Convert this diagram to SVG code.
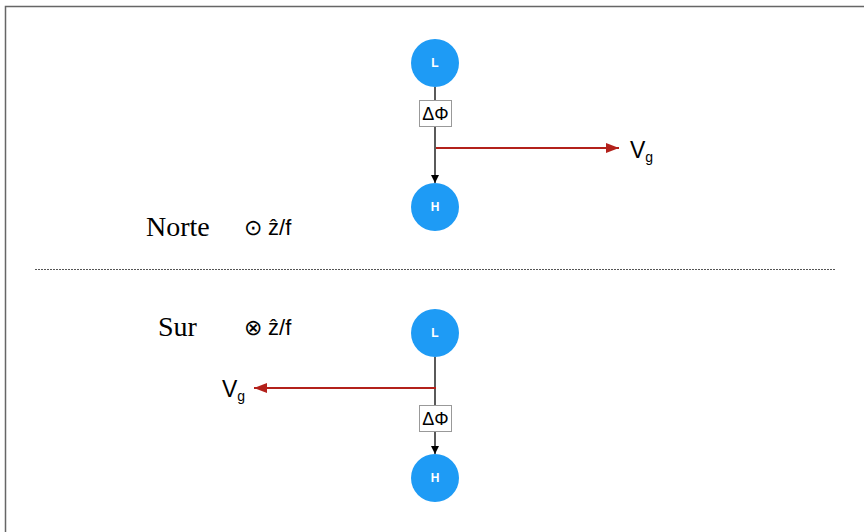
<svg xmlns="http://www.w3.org/2000/svg" width="864" height="532" viewBox="0 0 864 532">
<style>
.node{fill:#1e9bf5}
.nl{font-family:"Liberation Sans",Arial,sans-serif;font-size:12px;font-weight:bold;fill:#fff;text-anchor:middle}
.edge{stroke:#000;stroke-width:1.3;fill:none}
.red{stroke:#b3211b;stroke-width:2.2;fill:none}
.box{fill:#fff;stroke:#999;stroke-width:1}
.df{font-family:"Liberation Sans",Arial,sans-serif;font-size:18px;fill:#000;text-anchor:middle}
.vg{font-family:"Liberation Sans",Arial,sans-serif;font-size:23px;fill:#000}
.vgs{font-size:14px}
.ser{font-family:"Liberation Serif","Times New Roman",serif;font-size:28px;fill:#000}
.san{font-family:"Liberation Sans",Arial,sans-serif;font-size:22px;fill:#000}
</style>
<defs>
<marker id="ab" markerWidth="10" markerHeight="10" refX="9" refY="5" orient="auto" markerUnits="userSpaceOnUse"><path d="M1,1 L9,5 L1,9 z" fill="#000"/></marker>
<marker id="ar" markerWidth="14" markerHeight="12" refX="13" refY="6" orient="auto" markerUnits="userSpaceOnUse"><path d="M0,1 L13,6 L0,11 z" fill="#b3211b"/></marker>
</defs>
<rect width="864" height="532" fill="#fff"/>
<path d="M5.5,532 V6.5 H864" stroke="#666" stroke-width="1.5" fill="none"/>
<line x1="35" y1="269.5" x2="835" y2="269.5" stroke="#555" stroke-width="1" stroke-dasharray="2,1"/>
<g id="connectors">
<line class="edge" x1="435" y1="87" x2="435" y2="183" marker-end="url(#ab)"/>
<line class="red" x1="436" y1="148" x2="619" y2="148" marker-end="url(#ar)"/>
<line class="edge" x1="435" y1="357" x2="435" y2="454" marker-end="url(#ab)"/>
<line class="red" x1="436" y1="388" x2="254" y2="388" marker-end="url(#ar)"/>
</g>
<g id="dphi1"><rect class="box" x="419.5" y="100.5" width="32" height="26"/><text class="df" x="435.5" y="120">ΔΦ</text></g>
<g id="dphi2"><rect class="box" x="419.5" y="405.5" width="32" height="26"/><text class="df" x="435.5" y="425">ΔΦ</text></g>
<g id="L1"><circle class="node" cx="435" cy="63" r="24"/><text class="nl" x="435" y="67">L</text></g>
<g id="H1"><circle class="node" cx="435" cy="207" r="24"/><text class="nl" x="435" y="211">H</text></g>
<g id="L2"><circle class="node" cx="435" cy="333" r="24"/><text class="nl" x="435" y="337">L</text></g>
<g id="H2"><circle class="node" cx="435" cy="478" r="24"/><text class="nl" x="435" y="482">H</text></g>
<text class="vg" x="630" y="158">V<tspan class="vgs" dy="4">g</tspan></text>
<text class="vg" x="222" y="397">V<tspan class="vgs" dy="4">g</tspan></text>
<text class="ser" x="146" y="236">Norte</text>
<text class="san" x="244" y="235">⊙ ẑ/f</text>
<text class="ser" x="158" y="336">Sur</text>
<text class="san" x="244" y="335">⊗ ẑ/f</text>
</svg>
